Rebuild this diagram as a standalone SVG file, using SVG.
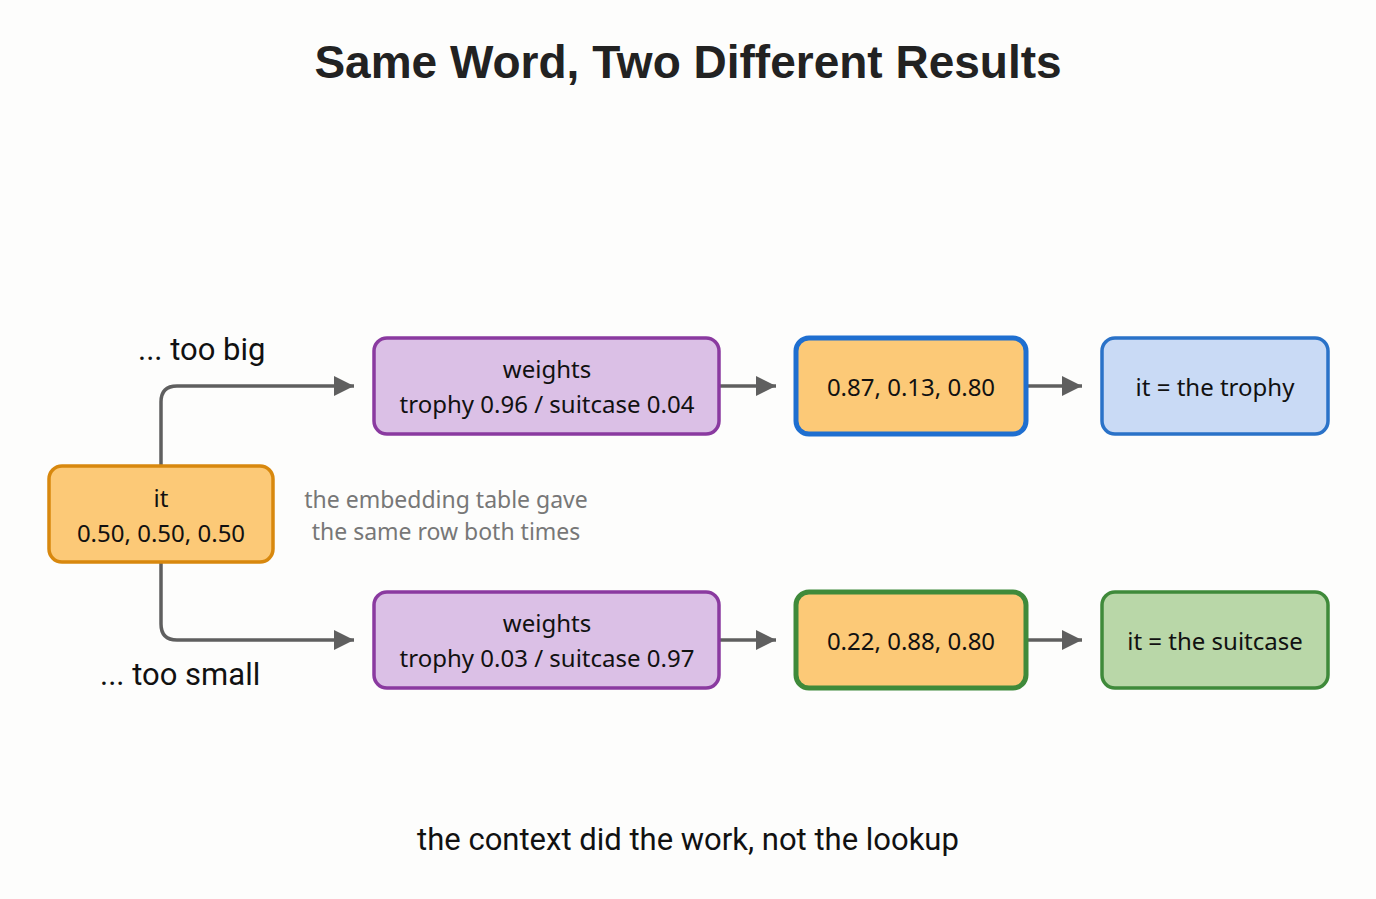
<svg xmlns="http://www.w3.org/2000/svg" width="1376" height="899" viewBox="0 0 1376 899">
<style>
.t{font-family:"Noto Sans","Open Sans",sans-serif;font-size:24px;fill:#111;text-anchor:middle}
.g{font-family:"Noto Sans","Open Sans",sans-serif;font-size:23px;fill:#777;text-anchor:middle}
.l{font-family:Roboto,"Liberation Sans",sans-serif;font-size:31px;fill:#111}
.c{fill:none;stroke:#5f5f5f;stroke-width:3.5}
.or{fill:#fcc977;stroke:#d8880e;stroke-width:3.5}
.pu{fill:#dbc0e6;stroke:#8a3aa0;stroke-width:3.5}
</style>
<defs><marker id="a" markerWidth="8" markerHeight="8" refX="7" refY="4" orient="auto" markerUnits="userSpaceOnUse" viewBox="0 0 8 8"><path d="M0,0L8,4L0,8z" fill="#5f5f5f"/></marker>
<marker id="ah" viewBox="0 0 10 10" refX="10" refY="5" markerWidth="20" markerHeight="20" markerUnits="userSpaceOnUse" orient="auto"><path d="M0,0L10,5L0,10z" fill="#5f5f5f"/></marker></defs>
<rect width="1376" height="899" fill="#fdfdfc"/>
<text x="688" y="78" font-family="Liberation Sans,Arial,sans-serif" font-size="46" font-weight="bold" fill="#222" text-anchor="middle">Same Word, Two Different Results</text>
<g id="connectors">
<path class="c" d="M161,466V402Q161,386 177,386H354" marker-end="url(#ah)"/>
<path class="c" d="M161,562V624Q161,640 177,640H354" marker-end="url(#ah)"/>
<path class="c" d="M719,386H776" marker-end="url(#ah)"/>
<path class="c" d="M1026,386H1082" marker-end="url(#ah)"/>
<path class="c" d="M719,640H776" marker-end="url(#ah)"/>
<path class="c" d="M1026,640H1082" marker-end="url(#ah)"/>
</g>
<g id="it"><rect class="or" x="49" y="466" width="224" height="96" rx="13"/><text class="t" x="161" y="507">it</text><text class="t" x="161" y="542">0.50, 0.50, 0.50</text></g>
<g id="w1"><rect class="pu" x="374" y="338" width="345" height="96" rx="13"/><text class="t" x="547" y="378">weights</text><text class="t" x="547" y="413">trophy 0.96 / suitcase 0.04</text></g>
<g id="v1"><rect x="796" y="338" width="230" height="96" rx="13" fill="#fcc977" stroke="#1f6fd0" stroke-width="5"/><text class="t" x="911" y="396">0.87, 0.13, 0.80</text></g>
<g id="r1"><rect x="1102" y="338" width="226" height="96" rx="13" fill="#c9daf5" stroke="#2a72c8" stroke-width="3.5"/><text class="t" x="1215" y="396">it = the trophy</text></g>
<g id="w2"><rect class="pu" x="374" y="592" width="345" height="96" rx="13"/><text class="t" x="547" y="632">weights</text><text class="t" x="547" y="667">trophy 0.03 / suitcase 0.97</text></g>
<g id="v2"><rect x="796" y="592" width="230" height="96" rx="13" fill="#fcc977" stroke="#3f8a3a" stroke-width="5"/><text class="t" x="911" y="650">0.22, 0.88, 0.80</text></g>
<g id="r2"><rect x="1102" y="592" width="226" height="96" rx="13" fill="#b9d7a8" stroke="#3f8a3a" stroke-width="3.5"/><text class="t" x="1215" y="650">it = the suitcase</text></g>
<text class="l" x="138" y="360">... too big</text>
<text class="l" x="100" y="685">... too small</text>
<text class="g" x="446" y="508">the embedding table gave</text>
<text class="g" x="446" y="540">the same row both times</text>
<text class="l" x="688" y="850" text-anchor="middle">the context did the work, not the lookup</text>
</svg>
